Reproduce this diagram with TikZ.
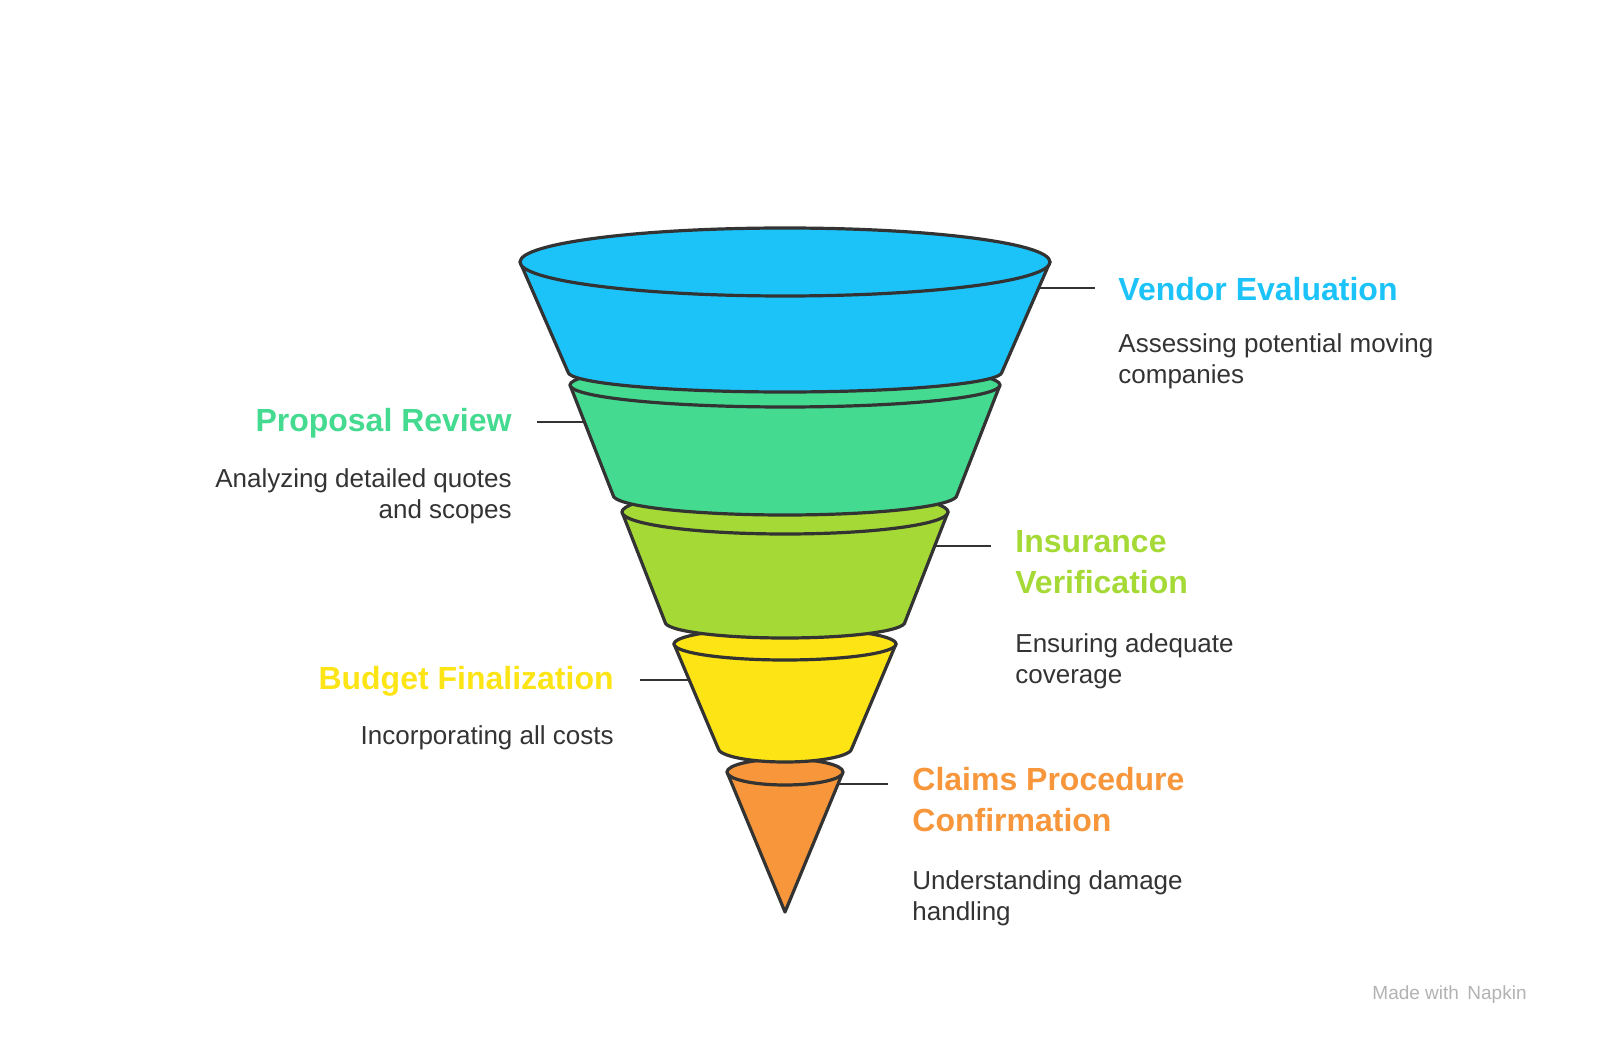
\documentclass[tikz,border=0pt]{standalone}
\usepackage{fontspec}
\setmainfont{Liberation Sans}
\begin{document}
\begin{tikzpicture}[x=0.5pt,y=-0.5pt,
  ol/.style={draw=black!80,line width=1.6pt,line join=round},
  ttl/.style={font=\fontsize{16}{20.5}\selectfont\bfseries,inner sep=0pt},
  dsc/.style={font=\fontsize{13}{15.6}\selectfont,text=black!80,inner sep=0pt},
  lead/.style={draw=black!80,line width=1.4pt}]
\definecolor{cblue}{HTML}{1CC3F9}
\definecolor{cgreen}{HTML}{44DB90}
\definecolor{clime}{HTML}{A5D936}
\definecolor{cyel}{HTML}{FDE414}
\definecolor{corg}{HTML}{F7963A}
\useasboundingbox (0,0) rectangle (1600,1063);
% orange
\path[ol,fill=corg] (727,772) -- (785,912) -- (843,772) -- cycle;
\path[ol,fill=corg] (785,772) ellipse [x radius=58,y radius=13];
% yellow
\path[ol,fill=cyel] (674,644) -- (718,748) arc[start angle=180,end angle=0,x radius=67,y radius=14] -- (896,644) -- cycle;
\path[ol,fill=cyel] (785,644) ellipse [x radius=111,y radius=16];
% lime
\path[ol,fill=clime] (622,512) -- (665,622) arc[start angle=180,end angle=0,x radius=120,y radius=16] -- (948,512) -- cycle;
\path[ol,fill=clime] (785,512) ellipse [x radius=163,y radius=22];
% green
\path[ol,fill=cgreen] (570,385) -- (613,495) arc[start angle=180,end angle=0,x radius=172,y radius=20] -- (1000,385) -- cycle;
\path[ol,fill=cgreen] (785,385) ellipse [x radius=215,y radius=22];
% blue
\path[ol,fill=cblue] (520,262) -- (568,372) arc[start angle=180,end angle=0,x radius=217,y radius=20] -- (1050,262) -- cycle;
\path[ol,fill=cblue] (785,262) ellipse [x radius=265,y radius=34];
% leaders
\coordinate (a1) at (1038,288); \coordinate (a2) at (1095,288);
\draw[lead] (a1) -- (a2);
\coordinate (b1) at (583,422); \coordinate (b2) at (537,422);
\draw[lead] (b1) -- (b2);
\coordinate (c1) at (933,546); \coordinate (c2) at (991,546);
\draw[lead] (c1) -- (c2);
\coordinate (d1) at (688,680); \coordinate (d2) at (640,680);
\draw[lead] (d1) -- (d2);
\coordinate (e1) at (838,784); \coordinate (e2) at (888,784);
\draw[lead] (e1) -- (e2);
% texts
\node[ttl,text=cblue,anchor=west] (t1) at (1118,289) {Vendor Evaluation};
\node[dsc,anchor=north west,align=left] (s1) at (1118,333) {Assessing potential moving\\companies};
\node[ttl,text=clime,anchor=north west,align=left] (t3) at (1015,530) {Insurance\\Verification};
\node[ttl,text=cgreen,anchor=east] (t2) at (512,423) {Proposal Review};
\node[dsc,anchor=north east,align=right] (s2) at (512,468) {Analyzing detailed quotes\\and scopes};
\node[dsc,anchor=north west,align=left] (s3) at (1015,633) {Ensuring adequate\\coverage};
\node[ttl,text=cyel,anchor=east] (t4) at (614,681) {Budget Finalization};
\node[dsc,anchor=east] (s4) at (614,738) {Incorporating all costs};
\node[ttl,text=corg,anchor=north west,align=left] (t5) at (912,767) {Claims Procedure\\Confirmation};
\node[dsc,anchor=north west,align=left] (s5) at (912,870) {Understanding damage\\handling};
\node[font=\fontsize{9.5}{10}\selectfont,text=black!30,anchor=east,inner sep=0pt] (wm) at (1527,995) {Made with \,Napkin};
\end{tikzpicture}
\end{document}
